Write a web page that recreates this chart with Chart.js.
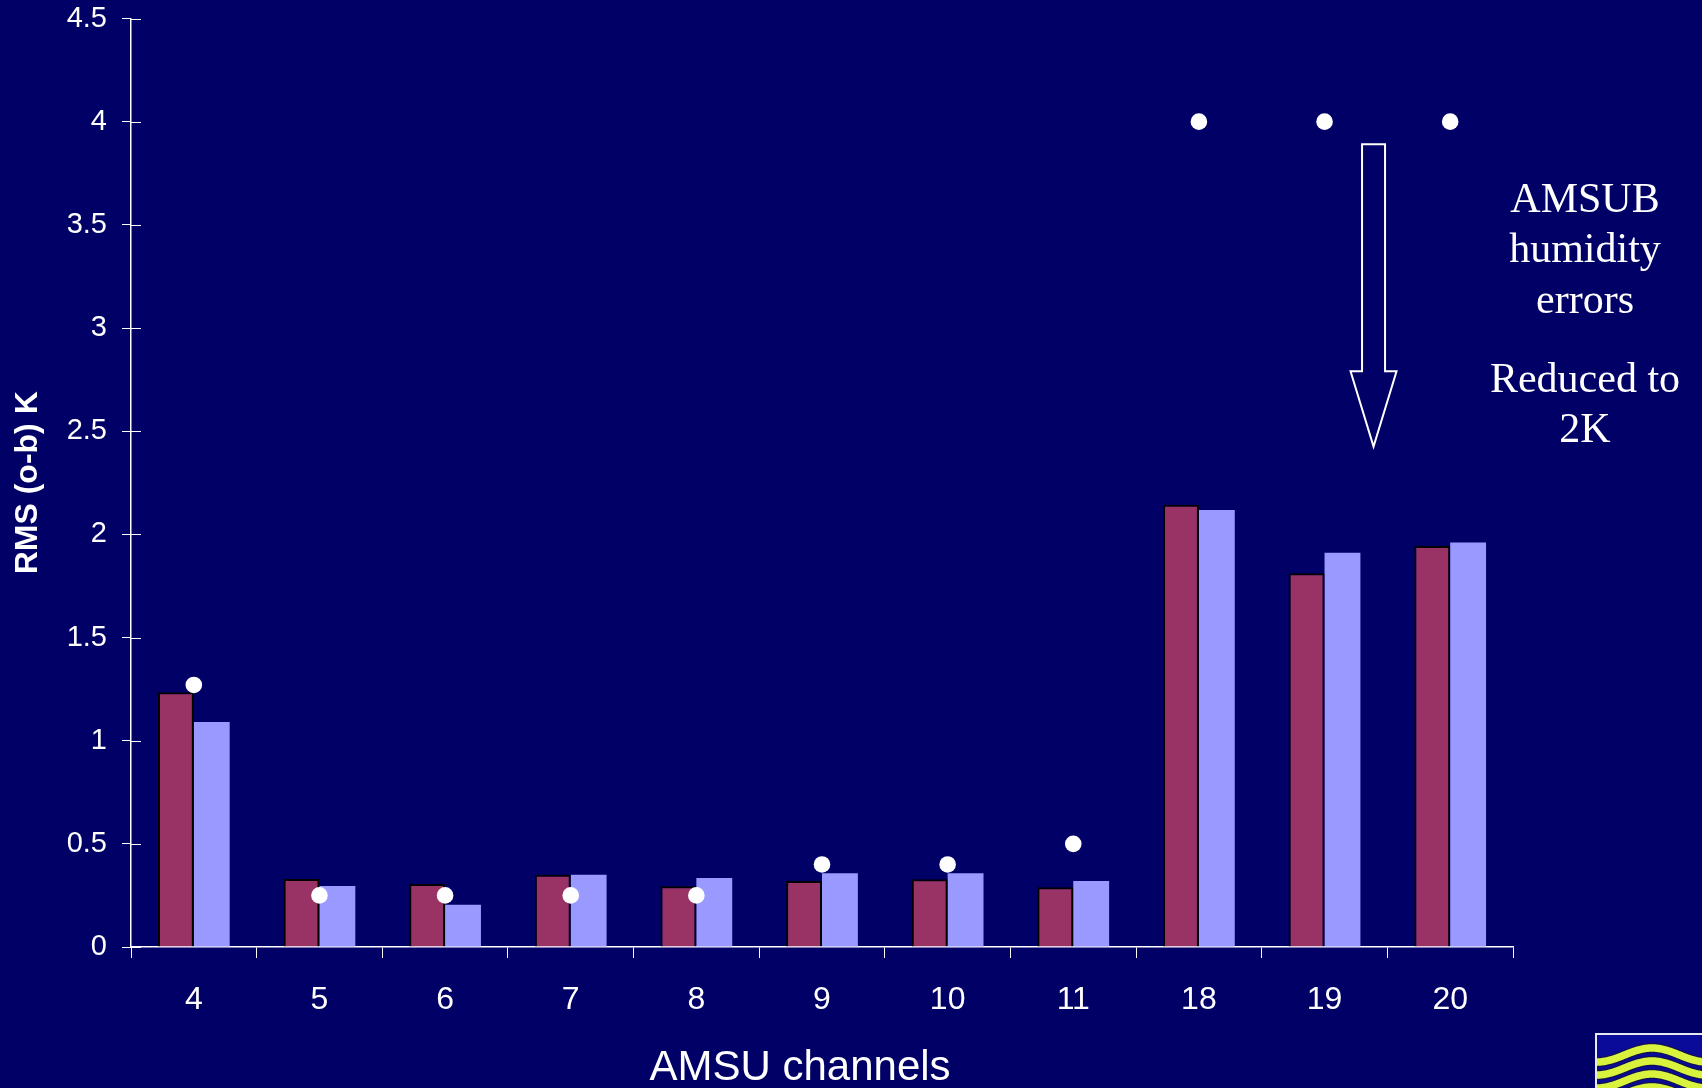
<!DOCTYPE html>
<html>
<head>
<meta charset="utf-8">
<script src="https://cdn.jsdelivr.net/npm/chart.js@4/dist/chart.umd.min.js"></script>
<style>
  html, body { margin: 0; padding: 0; background: #000066; overflow: hidden; }
  canvas { display: block; }
</style>
</head>
<body>
<canvas id="chart" width="1702" height="1088"></canvas>
<script>
// AMSU channel numbers along the x axis
const channels = ['4', '5', '6', '7', '8', '9', '10', '11', '18', '19', '20'];

// RMS of observation minus background (K), two runs
const rmsRunA = [1.235, 0.33, 0.305, 0.35, 0.295, 0.32, 0.328, 0.29, 2.143, 1.811, 1.944];
const rmsRunB = [1.09, 0.296, 0.205, 0.35, 0.335, 0.358, 0.358, 0.32, 2.118, 1.911, 1.96];

// Assigned observation errors (K)
const obsErrors = [1.27, 0.25, 0.25, 0.25, 0.25, 0.4, 0.4, 0.5, 4, 4, 4];

// Value axis
const yMin = 0;
const yMax = 4.5;
const yStep = 0.5;

// Side note text
const noteTop = ['AMSUB', 'humidity', 'errors'];
const noteBottom = ['Reduced to', '2K'];
const xTitle = 'AMSU channels';
const yTitle = 'RMS (o-b) K';

const SANS = "'Liberation Sans', Arial, Helvetica, sans-serif";
const SERIF = "'Liberation Serif', 'Times New Roman', Times, serif";
const WHITE = '#ffffff';

// Short inward tick stubs on the value axis
const innerTicks = {
  id: 'innerTicks',
  afterDraw(chart) {
    const {ctx, chartArea} = chart;
    const ys = chart.scales.y;
    ctx.save();
    ctx.strokeStyle = WHITE;
    ctx.lineWidth = 1;
    ys.ticks.forEach(t => {
      const y = Math.round(ys.getPixelForValue(t.value)) + 0.5;
      ctx.beginPath();
      ctx.moveTo(chartArea.left, y);
      ctx.lineTo(chartArea.left + 10, y);
      ctx.stroke();
    });
    ctx.restore();
  }
};

// Axis title under the channels, downward arrow, note text and corner emblem
const decorations = {
  id: 'decorations',
  afterDraw(chart) {
    const {ctx} = chart;
    const xs = chart.scales.x;
    const ys = chart.scales.y;
    ctx.save();

    // x axis title
    ctx.fillStyle = WHITE;
    ctx.font = `42px ${SANS}`;
    ctx.textAlign = 'center';
    ctx.textBaseline = 'middle';
    ctx.fillText(xTitle, 800, 1068);

    // outlined arrow pointing down between channels 19 and 20
    const ax = xs.getPixelForValue(9.39);
    const yTop = ys.getPixelForValue(3.89);
    const yHead = ys.getPixelForValue(2.79);
    const yTip = ys.getPixelForValue(2.425);
    const sw = 11.5, hw = 23;
    ctx.beginPath();
    ctx.moveTo(ax - sw, yTop);
    ctx.lineTo(ax + sw, yTop);
    ctx.lineTo(ax + sw, yHead);
    ctx.lineTo(ax + hw, yHead);
    ctx.lineTo(ax, yTip);
    ctx.lineTo(ax - hw, yHead);
    ctx.lineTo(ax - sw, yHead);
    ctx.closePath();
    ctx.strokeStyle = WHITE;
    ctx.lineWidth = 2;
    ctx.lineJoin = 'miter';
    ctx.stroke();

    // note text
    ctx.font = `42px ${SERIF}`;
    ctx.textBaseline = 'alphabetic';
    ctx.textAlign = 'center';
    const noteX = 1585;
    noteTop.forEach((s, i) => ctx.fillText(s, noteX, 211.5 + i * 50.5));
    noteBottom.forEach((s, i) => ctx.fillText(s, noteX, 391.5 + i * 50.5));

    // corner emblem: waves in a framed box
    const bx = 1595, by = 1033;
    const bw = chart.width - bx + 4, bh = chart.height - by + 4;
    ctx.fillStyle = '#e8e8f0';
    ctx.fillRect(bx, by, bw, bh);
    ctx.fillStyle = '#0b0b9a';
    ctx.fillRect(bx + 2, by + 2, bw, bh);
    ctx.beginPath();
    ctx.rect(bx + 2, by + 2, bw, bh);
    ctx.clip();
    for (let k = 0; k < 4; k++) {
      ctx.beginPath();
      for (let x = bx; x <= chart.width + 2; x++) {
        const y = by + 22 + k * 13 + 7 * Math.cos((x - bx - 2) * Math.PI / 55);
        if (x === bx) ctx.moveTo(x, y); else ctx.lineTo(x, y);
      }
      ctx.strokeStyle = '#111150';
      ctx.lineWidth = 10;
      ctx.stroke();
      ctx.strokeStyle = '#d9f23e';
      ctx.lineWidth = 7.5;
      ctx.stroke();
    }
    ctx.restore();
  }
};

new Chart(document.getElementById('chart'), {
  type: 'bar',
  data: {
    labels: channels,
    datasets: [
      {
        type: 'line',
        label: 'Observation error',
        data: obsErrors,
        showLine: false,
        pointRadius: 8.3,
        pointBackgroundColor: WHITE,
        pointBorderWidth: 0,
        order: 0
      },
      {
        label: 'RMS (o-b) run A',
        data: rmsRunA,
        backgroundColor: '#993366',
        borderColor: '#000000',
        borderWidth: 2,
        borderSkipped: 'bottom',
        categoryPercentage: 0.571,
        barPercentage: 1.0,
        order: 1
      },
      {
        label: 'RMS (o-b) run B',
        data: rmsRunB,
        backgroundColor: '#9999ff',
        borderWidth: 0,
        categoryPercentage: 0.571,
        barPercentage: 1.0,
        order: 1
      }
    ]
  },
  options: {
    responsive: false,
    devicePixelRatio: 1,
    animation: false,
    events: [],
    layout: { padding: { top: 18.5, right: 189, bottom: 0, left: 0 } },
    plugins: {
      legend: { display: false },
      tooltip: { enabled: false }
    },
    scales: {
      x: {
        offset: true,
        grid: {
          offset: true,
          drawOnChartArea: false,
          drawTicks: true,
          tickLength: 11,
          color: WHITE,
          lineWidth: 1
        },
        border: { display: true, color: WHITE, width: 1.5 },
        ticks: {
          color: WHITE,
          font: { family: SANS, size: 32 },
          padding: 23,
          maxRotation: 0
        },
        afterFit(scale) {
          scale.height = 141;
          scale.paddingLeft = 0;
          scale.paddingRight = 0;
        }
      },
      y: {
        min: yMin,
        max: yMax,
        grid: {
          drawOnChartArea: false,
          drawTicks: true,
          tickLength: 9,
          color: WHITE,
          lineWidth: 1
        },
        border: { display: true, color: WHITE, width: 1.5 },
        ticks: {
          stepSize: yStep,
          color: WHITE,
          font: { family: SANS, size: 29 },
          padding: 15,
          callback: (v) => String(Math.round(v * 10) / 10)
        },
        title: {
          display: true,
          text: yTitle,
          color: WHITE,
          font: { family: SANS, size: 32, weight: 'bold', lineHeight: 1.2 },
          padding: { top: 9, bottom: 0 }
        },
        afterFit(scale) {
          scale.width = 131;
          scale.paddingTop = 0;
          scale.paddingBottom = 0;
        }
      }
    }
  },
  plugins: [innerTicks, decorations]
});
</script>
</body>
</html>
